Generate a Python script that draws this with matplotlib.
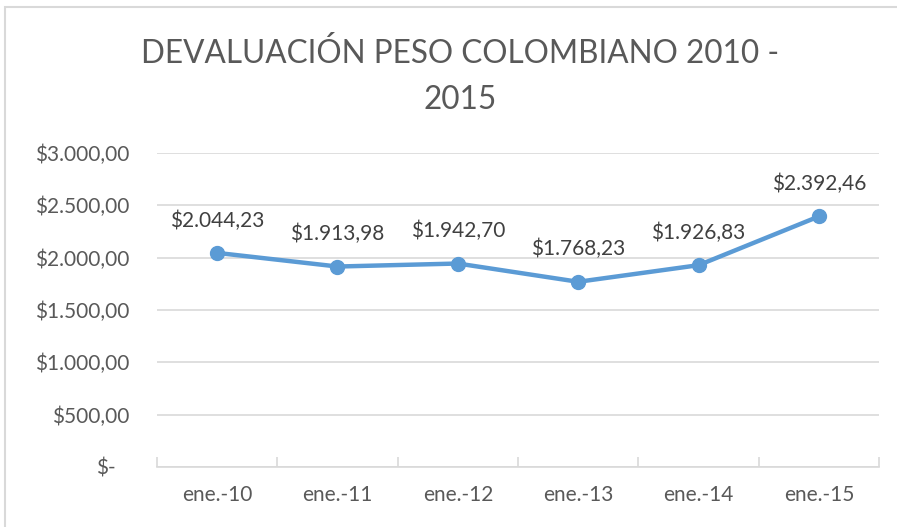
import matplotlib.pyplot as plt
from matplotlib.patches import Rectangle
from matplotlib.ticker import FuncFormatter
from matplotlib.transforms import ScaledTranslation

# data
categories = ['ene.-10', 'ene.-11', 'ene.-12', 'ene.-13', 'ene.-14', 'ene.-15']
tasa = [2044.23, 1913.98, 1942.70, 1768.23, 1926.83, 2392.46]
y_ticks = [0, 500, 1000, 1500, 2000, 2500, 3000]

plt.rcParams['font.family'] = ['Lato', 'DejaVu Sans']
txt_color = '#595959'


def pesos(v, pos=None):
    if v == 0:
        return '$-'
    s = f"{v:,.2f}"
    s = s.replace(',', 'X').replace('.', ',').replace('X', '.')
    return '$' + s


fig = plt.figure(figsize=(8.97, 5.27), dpi=100)
ax = fig.add_axes([0.175, 0.114, 0.805, 0.596])

x = range(len(categories))
ax.plot(x, tasa, color='#5B9BD5', linewidth=3.2, marker='o', markersize=10,
        solid_capstyle='round', zorder=3)

for i, v in zip(x, tasa):
    ax.annotate(pesos(v), (i, v), xytext=(0, 16), textcoords='offset points',
                ha='center', va='bottom', fontsize=15, color='#404040')

ax.set_xlim(-0.5, len(categories) - 0.5)
ax.set_ylim(0, 3000)
ax.set_yticks(y_ticks)
ax.yaxis.set_major_formatter(FuncFormatter(pesos))
ax.set_xticks(list(x))
ax.set_xticklabels(categories)
ax.set_xticks([i - 0.5 for i in range(len(categories) + 1)], minor=True)

ax.grid(axis='y', color='#D9D9D9', linewidth=1.2)
ax.set_axisbelow(True)
for s in ['top', 'right', 'left']:
    ax.spines[s].set_visible(False)
ax.spines['bottom'].set_color('#D9D9D9')
ax.spines['bottom'].set_linewidth(1.2)

ax.tick_params(axis='y', length=0, labelsize=15, labelcolor=txt_color, pad=20)
ax.tick_params(axis='x', which='major', length=0, labelsize=15,
               labelcolor=txt_color, pad=13)
ax.tick_params(axis='x', which='minor', length=7, color='#D9D9D9', width=1.2,
               direction='in')

# accounting format: "$-" sits a bit left of the other labels
lbl0 = ax.yaxis.get_major_ticks()[0].label1
lbl0.set_transform(lbl0.get_transform() + ScaledTranslation(-0.14, 0, fig.dpi_scale_trans))

fig.text(0.513, 0.855, 'DEVALUACIÓN PESO COLOMBIANO 2010 -\n2015',
         ha='center', va='center', fontsize=22.7, color=txt_color,
         linespacing=1.7)

# chart border
fig.patches.append(Rectangle((0.006, -0.01), 1.1, 0.997, transform=fig.transFigure,
                             fill=False, edgecolor='#D9D9D9', linewidth=1.5))

fig.savefig('out.png', dpi=100)
